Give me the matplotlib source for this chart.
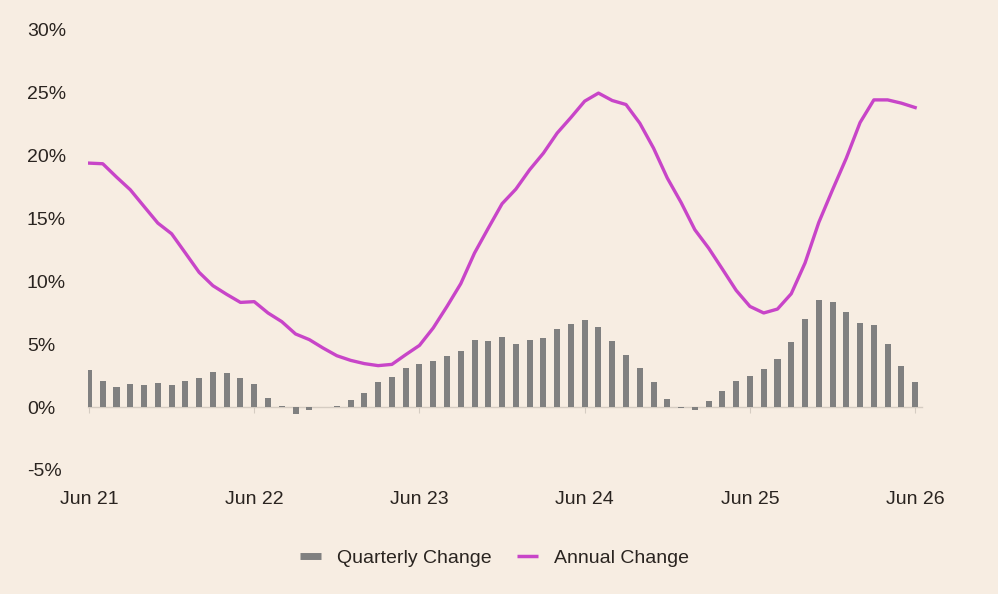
import matplotlib.pyplot as plt
from matplotlib.lines import Line2D
import numpy as np

# monthly, Jun 21 .. Jun 26
quarterly = [2.97, 2.1, 1.6, 1.83, 1.75, 1.88, 1.72, 2.07, 2.33, 2.78, 2.73, 2.28,
             1.83, 0.74, 0.1, -0.58, -0.2, -0.02, 0.1, 0.53, 1.09, 1.96, 2.41, 3.1,
             3.42, 3.66, 4.08, 4.43, 5.33, 5.28, 5.54, 5.04, 5.3, 5.49, 6.18, 6.6,
             6.92, 6.37, 5.25, 4.14, 3.13, 1.96, 0.61, -0.1, -0.19, 0.5, 1.25, 2.04,
             2.47, 3.02, 3.79, 5.15, 6.98, 8.51, 8.36, 7.53, 6.68, 6.55, 4.99, 3.29,
             1.96]
annual = [19.41, 19.36, 18.3, 17.29, 15.96, 14.64, 13.79, 12.26, 10.72, 9.66, 8.97, 8.33,
          8.39, 7.49, 6.8, 5.82, 5.37, 4.7, 4.09, 3.72, 3.46, 3.3, 3.4, 4.17,
          4.91, 6.3, 8.01, 9.82, 12.26, 14.24, 16.18, 17.34, 18.88, 20.2, 21.8, 23.04,
          24.34, 24.98, 24.39, 24.07, 22.59, 20.6, 18.22, 16.28, 14.11, 12.65, 10.98, 9.29,
          8.01, 7.49, 7.8, 9.02, 11.46, 14.69, 17.29, 19.81, 22.64, 24.44, 24.44, 24.18,
          23.83]
year_labels = ["Jun 21", "Jun 22", "Jun 23", "Jun 24", "Jun 25", "Jun 26"]
y_ticks = [-5, 0, 5, 10, 15, 20, 25, 30]

bg = "#F7EDE2"
bar_col = "#808080"
line_col = "#C845C8"
txt_col = "#2A2420"

plt.rcParams['font.family'] = ['Liberation Sans', 'DejaVu Sans']

fig = plt.figure(figsize=(9.98, 5.94), dpi=100, facecolor=bg)
ax = fig.add_axes([0.0882, 0.2088, 0.8357, 0.7407])
ax.set_facecolor(bg)

x = np.arange(len(quarterly))
ax.bar(x, quarterly, width=0.44, color=bar_col, zorder=2)
ax.plot(x, annual, color=line_col, lw=2.4, zorder=3, solid_joinstyle='round')

ax.set_xlim(-0.07, 60.5)
ax.set_ylim(-5, 30)

for s in ['top', 'right', 'left']:
    ax.spines[s].set_visible(False)
ax.spines['bottom'].set_position(('data', 0))
ax.spines['bottom'].set_color("#D5CCC2")
ax.spines['bottom'].set_linewidth(1)
ax.spines['bottom'].set_zorder(1)

ax.set_xticks(np.arange(0, 61, 12))
ax.set_xticklabels(year_labels)
ax.tick_params(axis='x', direction='out', length=4, color="#D5CCC2", pad=56.5,
               labelsize=14, labelcolor=txt_col)

ax.set_yticks(y_ticks)
ax.set_yticklabels([f"{v}%" for v in y_ticks])
ax.tick_params(axis='y', length=0, pad=44, labelsize=14, labelcolor=txt_col)
for lab in ax.get_yticklabels():
    lab.set_horizontalalignment('left')

handles = [Line2D([], [], color=bar_col, lw=5, solid_capstyle='butt'),
           Line2D([], [], color=line_col, lw=2.5, solid_capstyle='butt')]
fig.legend(handles, ["Quarterly Change", "Annual Change"], loc='center',
           bbox_to_anchor=(0.4955, 0.061), ncol=2, frameon=False, fontsize=14,
           handlelength=1.08, handletextpad=0.82, columnspacing=1.34,
           labelcolor=txt_col)

fig.savefig("out.png", dpi=100, facecolor=bg)
